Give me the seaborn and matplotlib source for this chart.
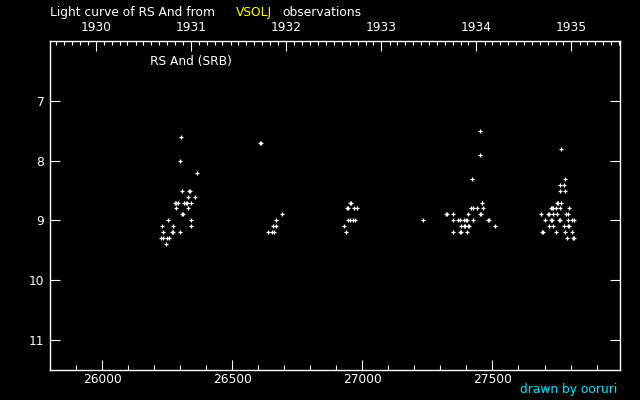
import pandas as pd
import matplotlib
matplotlib.use('Agg')
import matplotlib.pyplot as plt
from matplotlib.ticker import MultipleLocator, FixedLocator
import seaborn as sns

# JD - 2400000 and visual magnitude
jd = [26305, 26301, 26363, 26306, 26334, 26338, 26332, 26359, 26281, 26285,
      26293, 26315, 26322, 26328, 26343, 26286, 26332, 26308, 26312, 26255,
      26343, 26232, 26274, 26340, 26236, 26267, 26271, 26301, 26228, 26233,
      26251, 26258, 26247,
      26607, 26611, 26690, 26667, 26657, 26667, 26636, 26653, 26659,
      26952, 26958, 26941, 26945, 26969, 26978, 26945, 26952, 26963, 26972,
      26928, 26936,
      27235,
      27451, 27451, 27420, 27459, 27416, 27424, 27439, 27465, 27321, 27325,
      27347, 27405, 27451, 27455, 27347, 27367, 27374, 27390, 27399, 27403,
      27424, 27484, 27488, 27378, 27391, 27395, 27407, 27411, 27509, 27347,
      27375, 27379, 27401,
      27763, 27778, 27759, 27774, 27759, 27778, 27749, 27753, 27762, 27723,
      27730, 27734, 27746, 27759, 27793, 27686, 27715, 27719, 27732, 27747,
      27782, 27790, 27701, 27725, 27729, 27756, 27760, 27790, 27805, 27813,
      27717, 27732, 27774, 27791, 27795, 27690, 27694, 27743, 27778, 27805,
      27786, 27808, 27812]
mag = [7.6, 8.0, 8.2, 8.5, 8.5, 8.5, 8.6, 8.6, 8.7, 8.7,
       8.7, 8.7, 8.7, 8.7, 8.7, 8.8, 8.8, 8.9, 8.9, 9.0,
       9.0, 9.1, 9.1, 9.1, 9.2, 9.2, 9.2, 9.2, 9.3, 9.3,
       9.3, 9.3, 9.4,
       7.7, 7.7, 8.9, 9.0, 9.1, 9.1, 9.2, 9.2, 9.2,
       8.7, 8.7, 8.8, 8.8, 8.8, 8.8, 9.0, 9.0, 9.0, 9.0,
       9.1, 9.2,
       9.0,
       7.5, 7.9, 8.3, 8.7, 8.8, 8.8, 8.8, 8.8, 8.9, 8.9,
       8.9, 8.9, 8.9, 8.9, 9.0, 9.0, 9.0, 9.0, 9.0, 9.0,
       9.0, 9.0, 9.0, 9.1, 9.1, 9.1, 9.1, 9.1, 9.1, 9.2,
       9.2, 9.2, 9.2,
       7.8, 8.3, 8.4, 8.4, 8.5, 8.5, 8.7, 8.7, 8.7, 8.8,
       8.8, 8.8, 8.8, 8.8, 8.8, 8.9, 8.9, 8.9, 8.9, 8.9,
       8.9, 8.9, 9.0, 9.0, 9.0, 9.0, 9.0, 9.0, 9.0, 9.0,
       9.1, 9.1, 9.1, 9.1, 9.1, 9.2, 9.2, 9.2, 9.2, 9.2,
       9.3, 9.3, 9.3]
years = [1930, 1931, 1932, 1933, 1934, 1935]

df = pd.DataFrame({'jd': jd, 'mag': mag})

sns.set_theme(style='ticks')
plt.rcParams['font.family'] = ['DejaVu Sans']
fs = 8.8

fig = plt.figure(figsize=(6.4, 4.0), dpi=100, facecolor='black')
ax = fig.add_axes([50 / 640, 30 / 400, 570 / 640, 329 / 400])
ax.set_facecolor('black')

sns.scatterplot(data=df, x='jd', y='mag', marker='+', s=9, color='white',
                linewidth=0.9, ax=ax, legend=False)

ax.set_xlim(25800, 27990)
ax.set_ylim(11.5, 6.0)
ax.set_xlabel('')
ax.set_ylabel('')
for sp in ax.spines.values():
    sp.set_color('white')
    sp.set_linewidth(1.0)

ax.xaxis.set_major_locator(FixedLocator([26000, 26500, 27000, 27500]))
ax.xaxis.set_minor_locator(MultipleLocator(100))
ax.set_yticks([7, 8, 9, 10, 11])
ax.tick_params(axis='x', which='major', direction='in', length=7, width=0.8,
               colors='white', labelsize=fs, pad=2, top=False)
ax.tick_params(axis='x', which='minor', direction='in', length=3.5, width=0.8,
               colors='white', top=False)
ax.tick_params(axis='y', which='major', direction='in', length=7.5, width=0.8,
               colors='white', labelsize=fs, pad=4, left=True, right=True)

# calendar years on the top axis
def to_jd(ts):
    return pd.Timestamp(ts).to_julian_date() - 2400000

top = ax.twiny()
top.set_xlim(ax.get_xlim())
top.xaxis.set_major_locator(FixedLocator([to_jd(f'{y}-01-01') for y in years]))
top.set_xticklabels([str(y) for y in years])
months = pd.date_range('1929-08-01', '1936-01-01', freq='MS')
top.xaxis.set_minor_locator(FixedLocator([to_jd(m) for m in months]))
top.tick_params(axis='x', which='major', direction='in', length=7, width=0.8,
                colors='white', labelsize=fs, pad=5)
top.tick_params(axis='x', which='minor', direction='in', length=3, width=0.8,
                colors='white')
for sp in top.spines.values():
    sp.set_visible(False)

# texts
fig.text(50 / 640, 1 - 12.5 / 400, 'Light curve of RS And from', color='white',
         fontsize=fs, va='center', ha='left')
fig.text(236 / 640, 1 - 12.5 / 400, 'VSOLJ', color='yellow',
         fontsize=fs, va='center', ha='left')
fig.text(282 / 640, 1 - 12.5 / 400, 'observations', color='white',
         fontsize=fs, va='center', ha='left')
fig.text(150 / 640, 1 - 61 / 400, 'RS And (SRB)', color='white',
         fontsize=fs, va='center', ha='left')
fig.text(617 / 640, 1 - 390 / 400, 'drawn by ooruri', color='#00e5ff',
         fontsize=fs, va='center', ha='right')

fig.savefig('out.png', dpi=100, facecolor='black')
